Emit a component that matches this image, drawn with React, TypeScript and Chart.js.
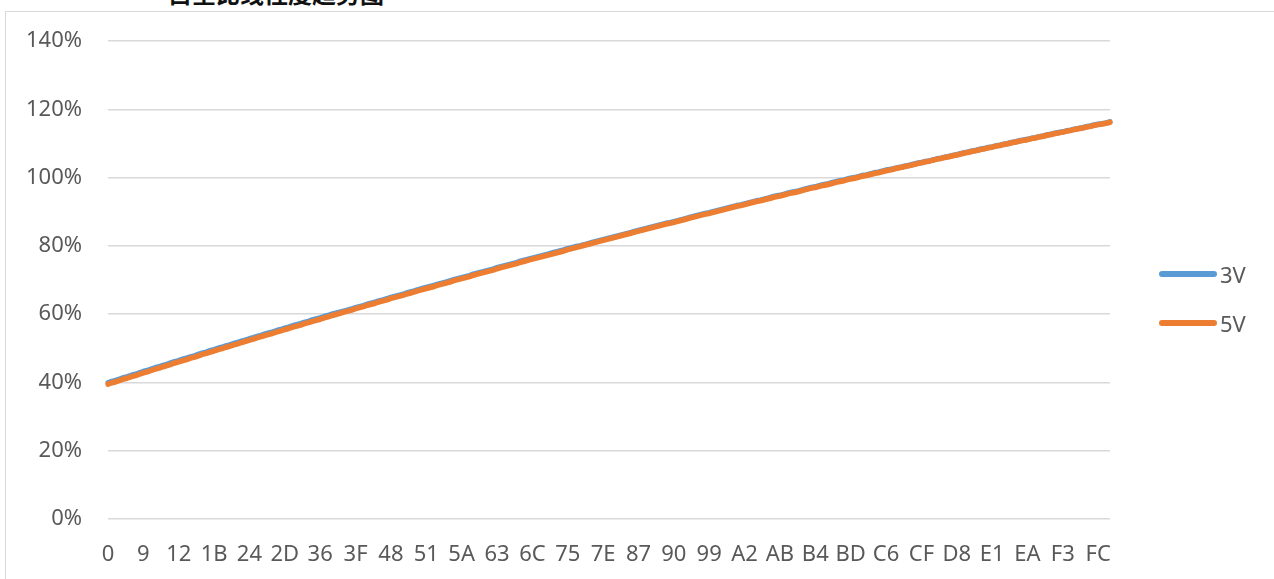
import React, { useEffect, useRef } from "react";
import { Chart, registerables } from "chart.js";

Chart.register(...registerables);

const CATEGORIES: string[] = [
  "0","1","2","3","4","5","6","7","8","9","A","B","C","D","E","F",
  "10","11","12","13","14","15","16","17","18","19","1A","1B","1C","1D","1E","1F",
  "20","21","22","23","24","25","26","27","28","29","2A","2B","2C","2D","2E","2F",
  "30","31","32","33","34","35","36","37","38","39","3A","3B","3C","3D","3E","3F",
  "40","41","42","43","44","45","46","47","48","49","4A","4B","4C","4D","4E","4F",
  "50","51","52","53","54","55","56","57","58","59","5A","5B","5C","5D","5E","5F",
  "60","61","62","63","64","65","66","67","68","69","6A","6B","6C","6D","6E","6F",
  "70","71","72","73","74","75","76","77","78","79","7A","7B","7C","7D","7E","7F",
  "80","81","82","83","84","85","86","87","88","89","8A","8B","8C","8D","8E","8F",
  "90","91","92","93","94","95","96","97","98","99","9A","9B","9C","9D","9E","9F",
  "A0","A1","A2","A3","A4","A5","A6","A7","A8","A9","AA","AB","AC","AD","AE","AF",
  "B0","B1","B2","B3","B4","B5","B6","B7","B8","B9","BA","BB","BC","BD","BE","BF",
  "C0","C1","C2","C3","C4","C5","C6","C7","C8","C9","CA","CB","CC","CD","CE","CF",
  "D0","D1","D2","D3","D4","D5","D6","D7","D8","D9","DA","DB","DC","DD","DE","DF",
  "E0","E1","E2","E3","E4","E5","E6","E7","E8","E9","EA","EB","EC","ED","EE","EF",
  "F0","F1","F2","F3","F4","F5","F6","F7","F8","F9","FA","FB","FC","FD","FE","FF",
];

const X_TICK_LABELS: string[] = [
  "0","9","12","1B","24","2D","36","3F","48","51","5A","63","6C","75","7E",
  "87","90","99","A2","AB","B4","BD","C6","CF","D8","E1","EA","F3","FC",
];

const Y_TICKS: number[] = [0, 20, 40, 60, 80, 100, 120, 140];

const SERIES_NAMES: string[] = ["3V", "5V"];

// values in percent
const V3: number[] = [
  39.9, 40.3, 40.6, 41.0, 41.4, 41.7, 42.1, 42.4, 42.8, 43.2,
  43.5, 43.9, 44.3, 44.6, 45.0, 45.3, 45.7, 46.1, 46.4, 46.8,
  47.1, 47.5, 47.8, 48.2, 48.6, 48.9, 49.3, 49.6, 50.0, 50.3,
  50.7, 51.0, 51.4, 51.7, 52.1, 52.4, 52.8, 53.1, 53.5, 53.8,
  54.2, 54.5, 54.8, 55.2, 55.5, 55.9, 56.2, 56.6, 56.9, 57.2,
  57.6, 57.9, 58.3, 58.6, 58.9, 59.3, 59.6, 60.0, 60.3, 60.6,
  60.9, 61.2, 61.5, 61.9, 62.2, 62.5, 62.9, 63.2, 63.5, 63.9,
  64.2, 64.5, 64.9, 65.2, 65.5, 65.8, 66.2, 66.5, 66.8, 67.2,
  67.5, 67.8, 68.1, 68.4, 68.8, 69.1, 69.4, 69.7, 70.1, 70.4,
  70.7, 71.0, 71.3, 71.7, 72.0, 72.3, 72.6, 72.9, 73.2, 73.6,
  73.9, 74.2, 74.5, 74.8, 75.1, 75.5, 75.8, 76.1, 76.4, 76.7,
  77.0, 77.3, 77.6, 77.9, 78.2, 78.5, 78.8, 79.2, 79.5, 79.8,
  80.0, 80.3, 80.6, 80.9, 81.2, 81.5, 81.8, 82.1, 82.4, 82.7,
  83.0, 83.3, 83.6, 83.9, 84.2, 84.5, 84.8, 85.1, 85.4, 85.7,
  86.0, 86.3, 86.6, 86.8, 87.1, 87.4, 87.7, 88.0, 88.3, 88.6,
  88.9, 89.2, 89.5, 89.7, 90.0, 90.3, 90.6, 90.9, 91.2, 91.5,
  91.8, 92.0, 92.3, 92.6, 92.9, 93.2, 93.4, 93.7, 94.0, 94.3,
  94.6, 94.8, 95.1, 95.4, 95.7, 95.9, 96.2, 96.5, 96.8, 97.1,
  97.3, 97.6, 97.9, 98.1, 98.4, 98.7, 99.0, 99.2, 99.5, 99.8,
  100.0, 100.3, 100.6, 100.8, 101.1, 101.4, 101.6, 101.9, 102.2, 102.4,
  102.6, 102.9, 103.1, 103.4, 103.6, 103.9, 104.2, 104.4, 104.7, 104.9,
  105.2, 105.5, 105.7, 106.0, 106.2, 106.5, 106.7, 107.0, 107.3, 107.5,
  107.8, 108.0, 108.3, 108.5, 108.8, 109.0, 109.3, 109.5, 109.8, 110.0,
  110.3, 110.5, 110.8, 111.0, 111.2, 111.5, 111.7, 112.0, 112.2, 112.5,
  112.7, 113.0, 113.2, 113.4, 113.7, 113.9, 114.2, 114.4, 114.6, 114.9,
  115.1, 115.4, 115.6, 115.8, 116.0, 116.3,
];

const V5: number[] = [
  39.5, 39.9, 40.2, 40.6, 41.0, 41.3, 41.7, 42.0, 42.4, 42.8,
  43.1, 43.5, 43.9, 44.2, 44.6, 44.9, 45.3, 45.7, 46.0, 46.4,
  46.7, 47.1, 47.4, 47.8, 48.2, 48.5, 48.9, 49.2, 49.6, 49.9,
  50.3, 50.6, 51.0, 51.3, 51.7, 52.0, 52.4, 52.7, 53.1, 53.4,
  53.8, 54.1, 54.4, 54.8, 55.1, 55.5, 55.8, 56.2, 56.5, 56.8,
  57.2, 57.5, 57.9, 58.2, 58.5, 58.9, 59.2, 59.6, 59.9, 60.2,
  60.6, 60.9, 61.2, 61.6, 61.9, 62.2, 62.6, 62.9, 63.2, 63.6,
  63.9, 64.2, 64.6, 64.9, 65.2, 65.5, 65.9, 66.2, 66.5, 66.9,
  67.2, 67.5, 67.8, 68.1, 68.5, 68.8, 69.1, 69.4, 69.8, 70.1,
  70.4, 70.7, 71.0, 71.4, 71.7, 72.0, 72.3, 72.6, 72.9, 73.3,
  73.6, 73.9, 74.2, 74.5, 74.8, 75.2, 75.5, 75.8, 76.1, 76.4,
  76.7, 77.0, 77.3, 77.6, 77.9, 78.2, 78.5, 78.9, 79.2, 79.5,
  79.8, 80.1, 80.4, 80.7, 81.0, 81.3, 81.6, 81.9, 82.2, 82.5,
  82.8, 83.1, 83.4, 83.7, 84.0, 84.3, 84.6, 84.9, 85.2, 85.5,
  85.8, 86.1, 86.4, 86.6, 86.9, 87.2, 87.5, 87.8, 88.1, 88.4,
  88.7, 89.0, 89.3, 89.5, 89.8, 90.1, 90.4, 90.7, 91.0, 91.3,
  91.6, 91.8, 92.1, 92.4, 92.7, 93.0, 93.2, 93.5, 93.8, 94.1,
  94.4, 94.6, 94.9, 95.2, 95.5, 95.7, 96.0, 96.3, 96.6, 96.9,
  97.1, 97.4, 97.7, 97.9, 98.2, 98.5, 98.8, 99.0, 99.3, 99.6,
  99.8, 100.1, 100.4, 100.6, 100.9, 101.2, 101.4, 101.7, 102.0, 102.2,
  102.5, 102.8, 103.0, 103.3, 103.5, 103.8, 104.1, 104.3, 104.6, 104.8,
  105.1, 105.4, 105.6, 105.9, 106.1, 106.4, 106.6, 106.9, 107.2, 107.4,
  107.7, 107.9, 108.2, 108.4, 108.7, 108.9, 109.2, 109.4, 109.7, 109.9,
  110.2, 110.4, 110.7, 110.9, 111.1, 111.4, 111.6, 111.9, 112.1, 112.4,
  112.6, 112.9, 113.1, 113.3, 113.6, 113.8, 114.1, 114.3, 114.5, 114.8,
  115.0, 115.3, 115.5, 115.7, 115.9, 116.2,
];

const COLORS: string[] = ["#5B9BD5", "#ED7D31"];
const TITLE = "占空比线性度趋势图";

const W = 1274;
const H = 579;
const FONT = "'Noto Sans', 'Open Sans', sans-serif";
const TEXT = "#595959";
const GRID = "#d9d9d9";

export default function App() {
  const ref = useRef<HTMLCanvasElement | null>(null);

  useEffect(() => {
    if (!ref.current) return;
    const tickSet = new Set(X_TICK_LABELS);
    const chart = new Chart(ref.current, {
      type: "line",
      data: {
        labels: CATEGORIES,
        datasets: [
          {
            label: SERIES_NAMES[0],
            data: V3,
            order: 1,
            borderColor: COLORS[0],
            backgroundColor: COLORS[0],
            borderWidth: 5.5,
            pointRadius: 0,
            tension: 0,
            borderCapStyle: "round",
            borderJoinStyle: "round",
          },
          {
            label: SERIES_NAMES[1],
            data: V5,
            order: 0,
            borderColor: COLORS[1],
            backgroundColor: COLORS[1],
            borderWidth: 5.5,
            pointRadius: 0,
            tension: 0,
            borderCapStyle: "round",
            borderJoinStyle: "round",
          },
        ],
      },
      options: {
        animation: false,
        responsive: false,
        maintainAspectRatio: false,
        layout: { padding: { left: 0, right: 164, top: 41, bottom: 0 } },
        plugins: {
          legend: { display: false },
          tooltip: { enabled: false },
          title: { display: false },
        },
        scales: {
          x: {
            type: "category",
            offset: false,
            grid: { display: false, drawTicks: false },
            border: { display: false },
            ticks: {
              autoSkip: false,
              maxRotation: 0,
              minRotation: 0,
              padding: 23,
              color: TEXT,
              font: { family: FONT, size: 22 },
              callback: (_v: any, i: number) =>
                tickSet.has(CATEGORIES[i]) ? CATEGORIES[i] : null,
            },
            afterFit: (s: any) => {
              s.height = 60;
            },
          },
          y: {
            min: Y_TICKS[0],
            max: Y_TICKS[Y_TICKS.length - 1],
            grid: { color: GRID, lineWidth: 1.5, drawTicks: false },
            border: { display: false },
            afterBuildTicks: (s: any) => {
              s.ticks = Y_TICKS.map((v) => ({ value: v }));
            },
            ticks: {
              padding: 26,
              color: TEXT,
              font: { family: FONT, size: 22 },
              callback: (v: any) => `${v}%`,
            },
            afterFit: (s: any) => {
              s.width = 108;
            },
          },
        },
      },
    });
    return () => chart.destroy();
  }, []);

  return (
    <div
      style={{
        position: "fixed",
        left: 0,
        top: 0,
        width: W,
        height: H,
        overflow: "hidden",
        background: "#fff",
      }}
    >
      <div
        style={{
          position: "absolute",
          left: 5,
          top: 11,
          width: W + 40,
          height: H + 40,
          border: `1.5px solid ${GRID}`,
          boxSizing: "border-box",
        }}
      />
      <div
        style={{
          position: "absolute",
          left: 0,
          top: 0,
          width: W,
          height: 8,
          overflow: "hidden",
        }}
      >
        <div
          style={{
            position: "absolute",
            left: 168,
            top: -19,
            fontFamily: "'Noto Sans CJK SC', sans-serif",
            fontWeight: 700,
            fontSize: 24,
            lineHeight: "24px",
            color: "#111",
            whiteSpace: "nowrap",
          }}
        >
          {TITLE}
        </div>
      </div>
      <canvas
        ref={ref}
        width={W}
        height={H}
        style={{ position: "absolute", left: 0, top: 0, width: W, height: H }}
      />
      {SERIES_NAMES.map((name, i) => (
        <div
          key={name}
          style={{
            position: "absolute",
            left: 1159,
            top: 274 + i * 49 - 14,
            height: 28,
            display: "flex",
            alignItems: "center",
            fontFamily: FONT,
            fontSize: 22,
            color: TEXT,
          }}
        >
          <span
            style={{
              display: "inline-block",
              width: 58,
              height: 6,
              borderRadius: 3,
              background: COLORS[i],
              marginRight: 3,
            }}
          />
          <span>{name}</span>
        </div>
      ))}
    </div>
  );
}
